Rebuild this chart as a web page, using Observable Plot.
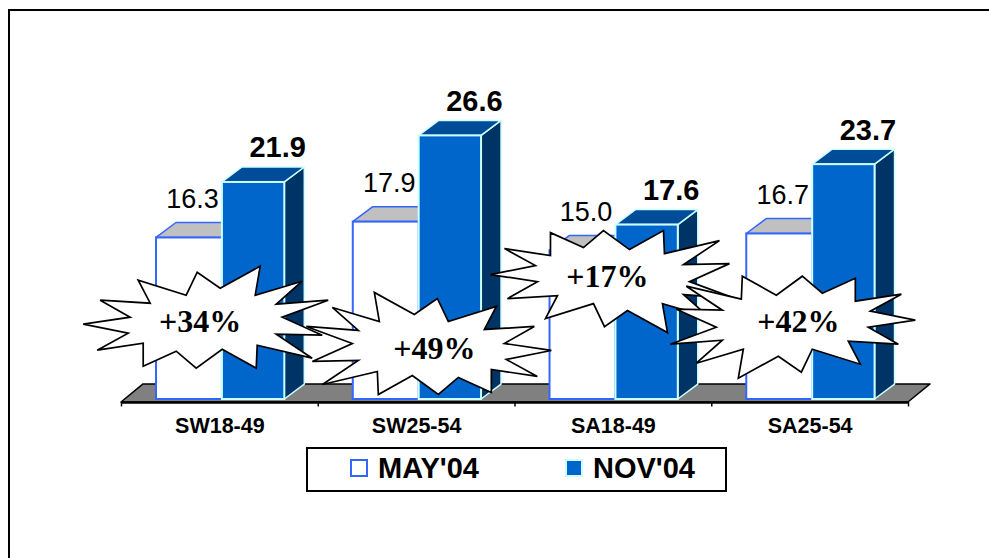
<!DOCTYPE html>
<html>
<head>
<meta charset="utf-8">
<script src="https://cdn.jsdelivr.net/npm/d3@7"></script>
<script src="https://cdn.jsdelivr.net/npm/@observablehq/plot@0.6"></script>
<style>
html,body{margin:0;padding:0;background:#fff;}
#wrap{position:relative;width:989px;height:558px;overflow:hidden;background:#fff;font-family:"Liberation Sans",Arial,sans-serif;}
#chart{position:absolute;left:0;top:0;}
#frame{position:absolute;left:8px;top:9px;width:1100px;height:700px;border:2px solid #000;pointer-events:none;}
#legend{position:absolute;left:306px;top:447px;width:417px;height:41px;border:2px solid #000;background:#fff;}
.sw{position:absolute;top:10px;width:14px;height:14px;}
.lt{position:absolute;top:5px;font-size:29px;line-height:29px;font-weight:bold;color:#000;white-space:nowrap;}
</style>
</head>
<body>
<div id="wrap">
  <div id="chart"></div>
  <div id="legend"></div>
  <div id="frame"></div>
</div>
<script>
// ---- data ----
const categories = ["SW18-49", "SW25-54", "SA18-49", "SA25-54"];
const may04 = [16.3, 17.9, 15.0, 16.7];
const nov04 = [21.9, 26.6, 17.6, 23.7];
const growthLabels = ["+34%", "+49%", "+17%", "+42%"];
const seriesNames = ["MAY'04", "NOV'04"];
// starburst annotation anchors (offset from category centre, value units)
const burstOffset = [-0.10, 0.09, -0.03, -0.06];
const burstLevel = [7.8, 5.15, 12.4, 7.8];

// ---- 3D geometry (depth in scale units) ----
const DX = 0.1016, DY = 1.51;      // bar depth
const FDX = 0.112, FDY = 1.82;     // floor depth
const FLOOR = -0.3;

const bars = [];
categories.forEach((c, i) => {
  bars.push({id: "m" + i, s: 0, cat: c, i, x1: i - 0.322, x2: i + 0.013, v: may04[i]});
  bars.push({id: "n" + i, s: 1, cat: c, i, x1: i + 0.013, x2: i + 0.33, v: nov04[i]});
});
const mayBars = bars.filter(b => b.s === 0);
const novBars = bars.filter(b => b.s === 1);
const topRows = bs => bs.flatMap(b => [
  {id: b.id, y: b.v, x1: b.x1, x2: b.x2},
  {id: b.id, y: b.v + DY, x1: b.x1 + DX, x2: b.x2 + DX}
]);
const sideRows = bs => bs.flatMap(b => [
  {id: b.id, x: b.x2, y1: 0, y2: b.v},
  {id: b.id, x: b.x2 + DX, y1: DY, y2: b.v + DY}
]);
const floorRows = [
  {y: FLOOR, x1: -0.5, x2: categories.length - 0.5},
  {y: FLOOR + FDY, x1: -0.5 + FDX, x2: categories.length - 0.5 + FDX}
];

// ---- starburst symbol ----
const burstShape = [
  [-117, 2], [-70, -5], [-100, -22], [-50, -19], [-62, -42], [-14, -27], [-3, -50], [20, -34],
  [60, -56], [55, -27], [102, -41], [76, -18], [128, -22], [82, -5], [122, 13], [76, 12],
  [112, 36], [57, 23], [56, 46], [22, 27], [-4, 46], [-24, 29], [-57, 44], [-57, 21],
  [-103, 28], [-72, 11]
];
function burst(sx, sy) {
  return {
    draw(ctx, size) {
      const k = Math.sqrt(size / Math.PI) / 10;
      burstShape.forEach(([x, y], j) => {
        const X = x * sx * k, Y = y * sy * k;
        if (j === 0) ctx.moveTo(X, Y); else ctx.lineTo(X, Y);
      });
      ctx.closePath();
    }
  };
}
const burstVariants = [burst(1, 1), burst(-1, 1), burst(1, -1), burst(-1, -1)];
const bursts = categories.map((c, i) => ({i, x: i + burstOffset[i], y: burstLevel[i], label: growthLabels[i]}));

const SANS = "Liberation Sans, Arial, sans-serif";
const SERIF = "Liberation Serif, Times New Roman, serif";

const chart = Plot.plot({
  width: 989,
  height: 440,
  marginTop: 0, marginBottom: 0, marginLeft: 0, marginRight: 0,
  style: {background: "transparent", overflow: "visible"},
  x: {type: "linear", domain: [-0.5, categories.length - 0.5], range: [121, 908], axis: null},
  y: {type: "linear", domain: [0, 40], range: [399, 2.6], axis: null},
  marks: [
    // floor
    Plot.areaX(floorRows, {y: "y", x1: "x1", x2: "x2", fill: "#808080", stroke: "#000", strokeWidth: 1.5}),
    Plot.ruleY([FLOOR], {x1: -0.5, x2: categories.length - 0.5, stroke: "#000", strokeWidth: 2.5}),
    Plot.ruleX(d3.range(categories.length + 1).map(k => k - 0.5), {y1: FLOOR, y2: -0.75, stroke: "#000", strokeWidth: 1.5}),
    // MAY'04 bars
    Plot.areaX(topRows(mayBars), {y: "y", x1: "x1", x2: "x2", z: "id", fill: "#c0c0c0", stroke: "#3366ff", strokeWidth: 1.5}),
    Plot.rect(mayBars, {x1: "x1", x2: "x2", y1: 0, y2: "v", fill: "#ffffff", stroke: "#3366ff", strokeWidth: 2}),
    // NOV'04 bars
    Plot.areaY(sideRows(novBars), {x: "x", y1: "y1", y2: "y2", z: "id", fill: "#003366", stroke: "#ccffff", strokeWidth: 1.5}),
    Plot.areaX(topRows(novBars), {y: "y", x1: "x1", x2: "x2", z: "id", fill: "#004c99", stroke: "#ccffff", strokeWidth: 1.5}),
    Plot.rect(novBars, {x1: "x1", x2: "x2", y1: 0, y2: "v", fill: "#0066cc", stroke: "#ccffff", strokeWidth: 2}),
    // category labels
    Plot.text(categories, {x: (d, i) => i, y: -2.65, text: d => d, fontSize: 21.5, fontWeight: "bold", fontFamily: SANS, fill: "#000"}),
    // value labels
    Plot.text(mayBars, {x: b => (b.x1 + b.x2) / 2, y: "v", text: b => b.v.toFixed(1), dx: 3, dy: -30, lineAnchor: "bottom", fontSize: 27, fontFamily: SANS, fill: "#000"}),
    Plot.text(novBars, {x: b => (b.x1 + b.x2) / 2, y: "v", text: b => b.v.toFixed(1), dx: 24, dy: -25, lineAnchor: "bottom", fontSize: 29, fontWeight: "bold", fontFamily: SANS, fill: "#000"}),
    // starbursts
    ...bursts.map((b, k) => Plot.dot([b], {x: "x", y: "y", r: 10, symbol: burstVariants[k], fill: "#ffffff", stroke: "#000", strokeWidth: 1.7})),
    Plot.text(bursts, {x: "x", y: "y", text: "label", fontSize: 32, fontWeight: "bold", fontFamily: SERIF, fill: "#000"})
  ]
});
document.getElementById("chart").appendChild(chart);

// legend
const legend = document.getElementById("legend");
const swatches = [
  {left: 42, fill: "#ffffff", border: "#3366ff"},
  {left: 257, fill: "#0066cc", border: "#ccffff"}
];
const textLeft = [70, 285];
seriesNames.forEach((name, k) => {
  const sw = document.createElement("div");
  sw.className = "sw";
  sw.style.left = swatches[k].left + "px";
  sw.style.background = swatches[k].fill;
  sw.style.border = "2px solid " + swatches[k].border;
  legend.appendChild(sw);
  const t = document.createElement("div");
  t.className = "lt";
  t.style.left = textLeft[k] + "px";
  t.textContent = name;
  legend.appendChild(t);
});
</script>
</body>
</html>
